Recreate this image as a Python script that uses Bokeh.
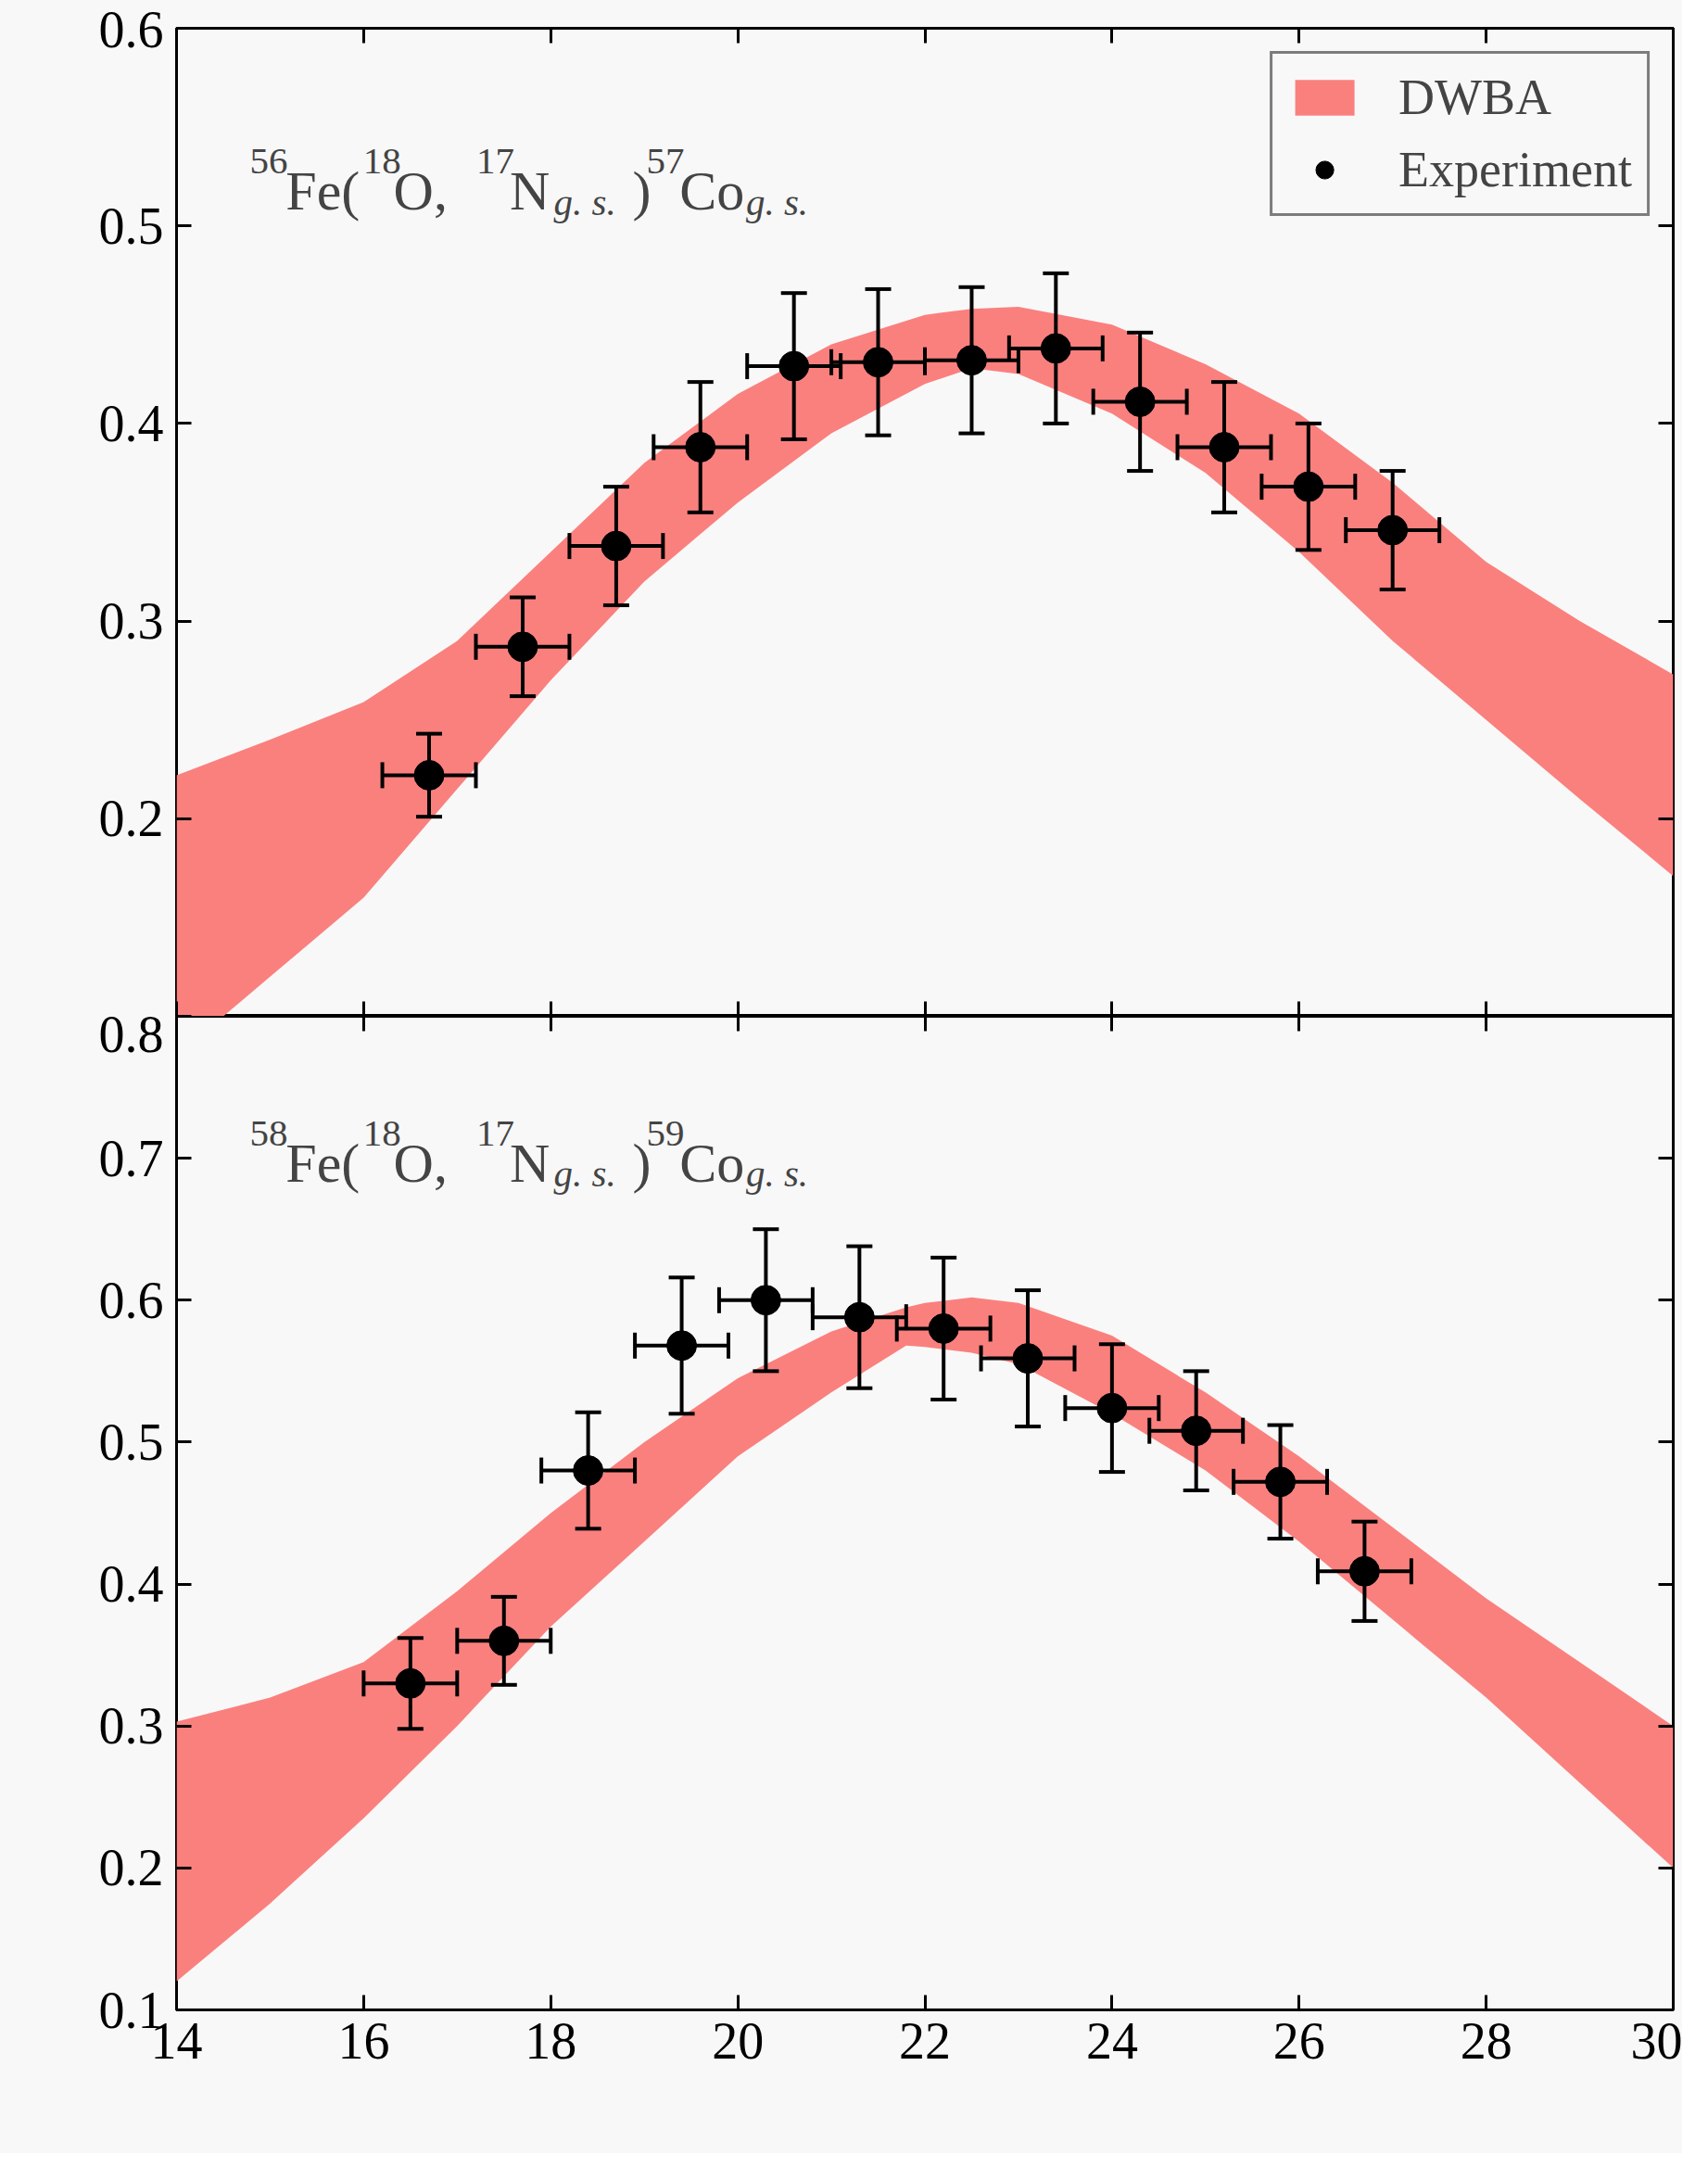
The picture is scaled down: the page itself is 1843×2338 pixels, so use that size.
import numpy as np
from bokeh.plotting import figure
from bokeh.models import (ColumnDataSource, Whisker, TeeHead, Label, LinearAxis,
                          Range1d, Legend, LegendItem, FixedTicker)
from bokeh.layouts import column
from bokeh.embed import file_html
from bokeh.resources import INLINE

# ---- data ----
top_theta = [16.7, 17.7, 18.7, 19.6, 20.6, 21.5, 22.5, 23.4, 24.3, 25.2, 26.1, 27.0]
top_xs = [0.5]*12
top_val = [0.222, 0.287, 0.338, 0.388, 0.429, 0.431, 0.432, 0.438, 0.411, 0.388, 0.368, 0.346]
top_err = [0.021, 0.025, 0.030, 0.033, 0.037, 0.037, 0.037, 0.038, 0.035, 0.033, 0.032, 0.030]
top_band_x = [14, 15, 16, 17, 18, 19, 20, 21, 22, 22.5, 23, 24, 25, 26, 27, 28, 29, 30]
top_band_hi = [0.222, 0.24, 0.259, 0.29, 0.335, 0.38, 0.415, 0.44, 0.455, 0.458, 0.459, 0.45, 0.43, 0.405, 0.37, 0.33, 0.30, 0.273]
top_band_lo = [0.08, 0.12, 0.16, 0.215, 0.27, 0.32, 0.36, 0.395, 0.42, 0.428, 0.425, 0.405, 0.375, 0.335, 0.29, 0.25, 0.21, 0.171]

bot_theta = [16.5, 17.5, 18.4, 19.4, 20.3, 21.3, 22.2, 23.1, 24.0, 24.9, 25.8, 26.7]
bot_xs = [0.5]*12
bot_val = [0.330, 0.360, 0.480, 0.568, 0.600, 0.588, 0.580, 0.559, 0.524, 0.508, 0.472, 0.409]
bot_err = [0.032, 0.031, 0.041, 0.048, 0.050, 0.050, 0.050, 0.048, 0.045, 0.042, 0.040, 0.035]
bot_band_x = [14, 15, 16, 17, 18, 19, 20, 21, 21.8, 22, 22.5, 23, 24, 25, 26, 27, 28, 29, 30]
bot_band_hi = [0.303, 0.32, 0.345, 0.395, 0.45, 0.50, 0.545, 0.578, 0.595, 0.598, 0.602, 0.598, 0.575, 0.535, 0.49, 0.44, 0.39, 0.345, 0.30]
bot_band_lo = [0.12, 0.175, 0.235, 0.30, 0.37, 0.43, 0.49, 0.535, 0.568, 0.567, 0.563, 0.555, 0.52, 0.48, 0.43, 0.375, 0.32, 0.26, 0.20]

x_ticks = [14, 16, 18, 20, 22, 24, 26, 28, 30]

FONT = "Liberation Serif"
BAND = "#fa807e"
BG = "#f8f8f8"
TICK_FS = "56px"


def style(p, yticks, show_x, hide_y=None):
    p.background_fill_color = BG
    p.border_fill_color = BG
    p.outline_line_color = "black"
    p.outline_line_width = 3
    p.grid.visible = False
    for ax in [p.xaxis[0], p.yaxis[0]]:
        ax.major_tick_in = 16
        ax.major_tick_out = 0
        ax.minor_tick_line_color = None
        ax.major_tick_line_width = 3
        ax.axis_line_color = None
        ax.major_label_text_font = FONT
        ax.major_label_text_font_size = TICK_FS
        ax.major_label_text_color = "black"
    p.xaxis[0].ticker = FixedTicker(ticks=x_ticks)
    p.yaxis[0].ticker = FixedTicker(ticks=yticks)
    p.yaxis[0].major_label_standoff = 14
    p.xaxis[0].major_label_standoff = 14
    if hide_y is not None:
        p.yaxis[0].major_label_overrides = {hide_y: " "}
    if not show_x:
        p.xaxis[0].major_label_text_font_size = "0px"
        p.xaxis[0].major_label_standoff = 0
    for loc, tk in [("right", yticks), ("above", x_ticks)]:
        ax = LinearAxis(ticker=FixedTicker(ticks=tk), major_tick_in=16, major_tick_out=0,
                        minor_tick_line_color=None, major_tick_line_width=3,
                        axis_line_color=None, major_label_text_font_size="0px",
                        major_label_standoff=0)
        p.add_layout(ax, loc)


def panel(fh, ylo, yhi, yticks, show_x, border_bottom, border_top, hide_y=None):
    p = figure(frame_width=1615, frame_height=fh, x_range=Range1d(14, 30),
               y_range=Range1d(ylo, yhi), output_backend="svg", toolbar_location=None,
               min_border_left=190, min_border_right=10, min_border_top=border_top,
               min_border_bottom=border_bottom)
    style(p, yticks, show_x, hide_y)
    return p


def draw(p, bx, bhi, blo, th, xs, val, err):
    band = p.varea(x=bx, y1=blo, y2=bhi, fill_color=BAND, fill_alpha=1.0)
    src = ColumnDataSource(dict(x=th, y=val,
                                ylo=[v - e for v, e in zip(val, err)],
                                yhi=[v + e for v, e in zip(val, err)],
                                xlo=[t - s for t, s in zip(th, xs)],
                                xhi=[t + s for t, s in zip(th, xs)]))
    for w in [Whisker(source=src, base="x", lower="ylo", upper="yhi", dimension="height"),
              Whisker(source=src, base="y", lower="xlo", upper="xhi", dimension="width")]:
        w.line_width = 4
        w.line_color = "black"
        w.level = "overlay"
        w.upper_head = TeeHead(size=28, line_width=4, line_color="black")
        w.lower_head = TeeHead(size=28, line_width=4, line_color="black")
        p.add_layout(w)
    pts = p.scatter(x="x", y="y", source=src, size=32, color="black")
    return band, pts


def title(p, px2x, y_main, y_sup, y_sub, nums):
    pieces = [(186, nums[0], "sup"), (212, "Fe(", "main"), (268, "18", "sup"),
              (290, "O,", "main"), (350, "17", "sup"), (374, "N", "main"),
              (406, "g. s.", "sub"), (463, ")", "main"), (473, nums[1], "sup"),
              (497, "Co", "main"), (545, "g. s.", "sub")]
    for px, t, kind in pieces:
        y = {"main": y_main, "sup": y_sup, "sub": y_sub}[kind]
        size = {"main": "60px", "sup": "41px", "sub": "41px"}[kind]
        p.add_layout(Label(x=px2x(px), y=y, text=t, text_font=FONT, text_font_size=size,
                           text_font_style="italic" if kind == "sub" else "normal",
                           text_baseline="alphabetic", text_align="left"))


def px2x(px):
    return 14 + (px - 133) / (1216 - 133) * 16


def ylabel(p, x, y1, y2):
    p.add_layout(Label(x=x, y=y1, x_units="screen", y_units="screen", text="dσ/dΩ",
                       angle=np.pi / 2, text_font=FONT, text_font_size="62px",
                       text_font_style="italic", text_baseline="middle"))
    p.add_layout(Label(x=x, y=y2, x_units="screen", y_units="screen", text="(mb/sr)",
                       angle=np.pi / 2, text_font=FONT, text_font_size="62px",
                       text_baseline="middle"))


# top panel
p1 = panel(1066, 0.1, 0.6, [0.1, 0.2, 0.3, 0.4, 0.5, 0.6], False, 0, 30, hide_y=0.1)
band1, pts1 = draw(p1, top_band_x, top_band_hi, top_band_lo, top_theta, top_xs, top_val, top_err)
ty = lambda py: 0.6 - (py - 22) / 143 * 0.1
title(p1, px2x, ty(140), ty(118), ty(148), ["56", "57"])
ylabel(p1, -131, 320, 470)
leg = Legend(items=[LegendItem(label="DWBA", renderers=[band1]),
                    LegendItem(label="Experiment", renderers=[pts1])],
             location="top_right", label_text_font=FONT, label_text_font_size="54px",
             border_line_color="black", border_line_width=3, background_fill_color=BG,
             background_fill_alpha=1, glyph_width=80, glyph_height=48, margin=25,
             padding=16, spacing=16, label_standoff=40)
p1.add_layout(leg)

# bottom panel
p2 = panel(1072, 0.1, 0.8, [0.1, 0.2, 0.3, 0.4, 0.5, 0.6, 0.7, 0.8], True, 155, 0)
draw(p2, bot_band_x, bot_band_hi, bot_band_lo, bot_theta, bot_xs, bot_val, bot_err)
by = lambda py: 0.8 - (py - 737) / 102.7 * 0.1
title(p2, px2x, by(843), by(822), by(851), ["58", "59"])
ylabel(p2, -141, 330, 482)
# overlapping "0.1" of the upper panel at the shared edge
p2.add_layout(Label(x=14, y=0.8, x_offset=-14, text="0.1", text_font=FONT,
                    text_font_size=TICK_FS, text_align="right", text_baseline="middle"))
p2.add_layout(Label(x=655, y=-135, x_units="screen", y_units="screen", text="θ",
                    text_font=FONT, text_font_size="66px", text_font_style="italic"))
p2.add_layout(Label(x=697, y=-148, x_units="screen", y_units="screen", text="c. m.",
                    text_font=FONT, text_font_size="44px"))
p2.add_layout(Label(x=818, y=-135, x_units="screen", y_units="screen", text="(deg)",
                    text_font=FONT, text_font_size="66px"))

layout = column(p1, p2, spacing=0, styles={"background-color": BG})
open("out.html", "w").write(file_html(layout, INLINE))
